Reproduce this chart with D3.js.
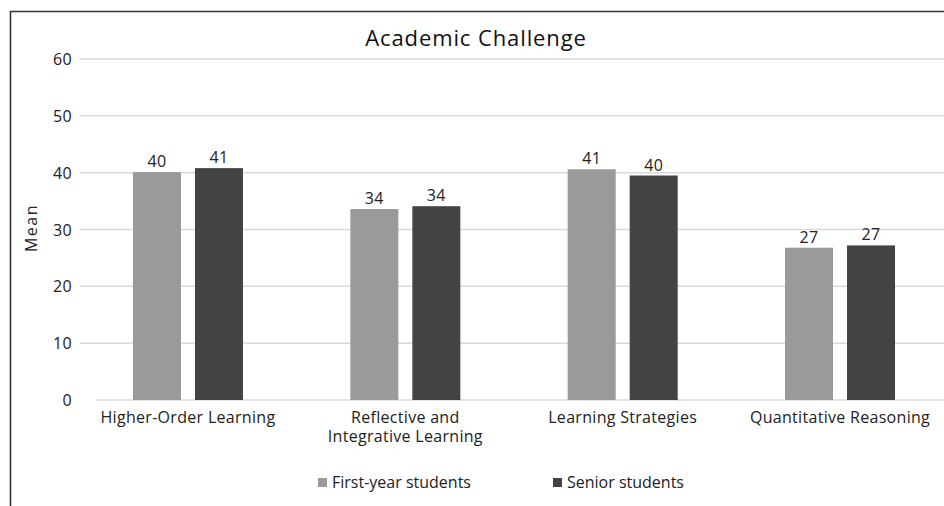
<!DOCTYPE html>
<html>
<head>
<meta charset="utf-8">
<script src="https://cdn.jsdelivr.net/npm/d3@7"></script>
<style>
  html, body { margin: 0; padding: 0; background: #fff; }
  svg { display: block; }
  text { font-family: "Open Sans", sans-serif; fill: #222; letter-spacing: 0.3px; }
</style>
</head>
<body>
<svg id="chart" width="944" height="506"></svg>
<script>
const categories = [["Higher-Order Learning"], ["Reflective and", "Integrative Learning"], ["Learning Strategies"], ["Quantitative Reasoning"]];
const seriesNames = ["First-year students", "Senior students"];
const firstYear = [40.1, 33.6, 40.6, 26.8];
const senior = [40.8, 34.1, 39.5, 27.2];
const yTicks = [0, 10, 20, 30, 40, 50, 60];
const colors = ["#9a9a9a", "#434343"];

const svg = d3.select("#chart");
const catKeys = categories.map(c => c.join(" "));
const x0 = d3.scaleBand().domain(catKeys).range([79.3, 948.7]).padding(0);
const x1 = d3.scaleBand().domain(seriesNames).range([-55, 55]).paddingInner(14 / 62).paddingOuter(0);
const y = d3.scaleLinear().domain([0, 60]).range([400, 59]);

// frame
svg.append("path").attr("d", "M10.5,506 V11.5 H944").attr("fill", "none").attr("stroke", "#333").attr("stroke-width", 1.6);

// title
svg.append("text").attr("x", 476).attr("y", 46).attr("text-anchor", "middle")
  .style("font-size", "22px").style("font-weight", "500").style("letter-spacing", "0.9px").style("fill", "#111").text("Academic Challenge");

// gridlines
svg.append("g").selectAll("line").data(yTicks.filter(t => t > 0)).join("line")
  .attr("x1", 80).attr("x2", 944).attr("y1", d => y(d)).attr("y2", d => y(d))
  .attr("stroke", "#d9d9d9").attr("stroke-width", 1.5);
svg.append("line").attr("x1", 96).attr("x2", 944).attr("y1", y(0)).attr("y2", y(0))
  .attr("stroke", "#d9d9d9").attr("stroke-width", 1.5);

// y axis labels
const yAxis = d3.axisLeft(y).tickValues(yTicks).tickSize(0).tickPadding(0);
const gy = svg.append("g").attr("transform", "translate(72,0)").call(yAxis);
gy.select(".domain").remove();
gy.selectAll("text").style("font-size", "16px").style("font-family", "'Open Sans', sans-serif").attr("fill", "#222").attr("dy", "0.35em");

svg.append("text").attr("transform", "translate(37,228) rotate(-90)").attr("text-anchor", "middle")
  .style("font-size", "16px").style("letter-spacing", "1.5px").text("Mean");

// bars
const rows = catKeys.map((k, i) => ({ key: k, vals: [firstYear[i], senior[i]] }));
const g = svg.append("g");
const groups = g.selectAll("g.cat").data(rows).join("g").attr("class", "cat")
  .attr("transform", d => `translate(${x0(d.key) + x0.bandwidth() / 2},0)`);
groups.selectAll("rect").data(d => d.vals.map((v, j) => ({ s: seriesNames[j], v, j }))).join("rect")
  .attr("x", d => x1(d.s)).attr("width", x1.bandwidth())
  .attr("y", d => y(d.v)).attr("height", d => y(0) - y(d.v))
  .attr("fill", d => colors[d.j]);
groups.selectAll("text.val").data(d => d.vals.map((v, j) => ({ s: seriesNames[j], v, j }))).join("text")
  .attr("class", "val").attr("x", d => x1(d.s) + x1.bandwidth() / 2).attr("y", d => y(d.v) - 5)
  .attr("text-anchor", "middle").style("font-size", "16px").text(d => Math.round(d.v));

// category labels
categories.forEach((lines, i) => {
  const cx = x0(catKeys[i]) + x0.bandwidth() / 2;
  const t = svg.append("text").attr("text-anchor", "middle").style("font-size", "16px");
  lines.forEach((ln, k) => {
    t.append("tspan").attr("x", cx).attr("y", 423 + k * 18.5).text(ln);
  });
});

// legend
const legendX = [318, 553];
seriesNames.forEach((name, j) => {
  svg.append("rect").attr("x", legendX[j]).attr("y", 478).attr("width", 9).attr("height", 9).attr("fill", colors[j]);
  svg.append("text").attr("x", legendX[j] + 14).attr("y", 488).style("font-size", "16px").style("letter-spacing", "0px").text(name);
});
</script>
</body>
</html>
